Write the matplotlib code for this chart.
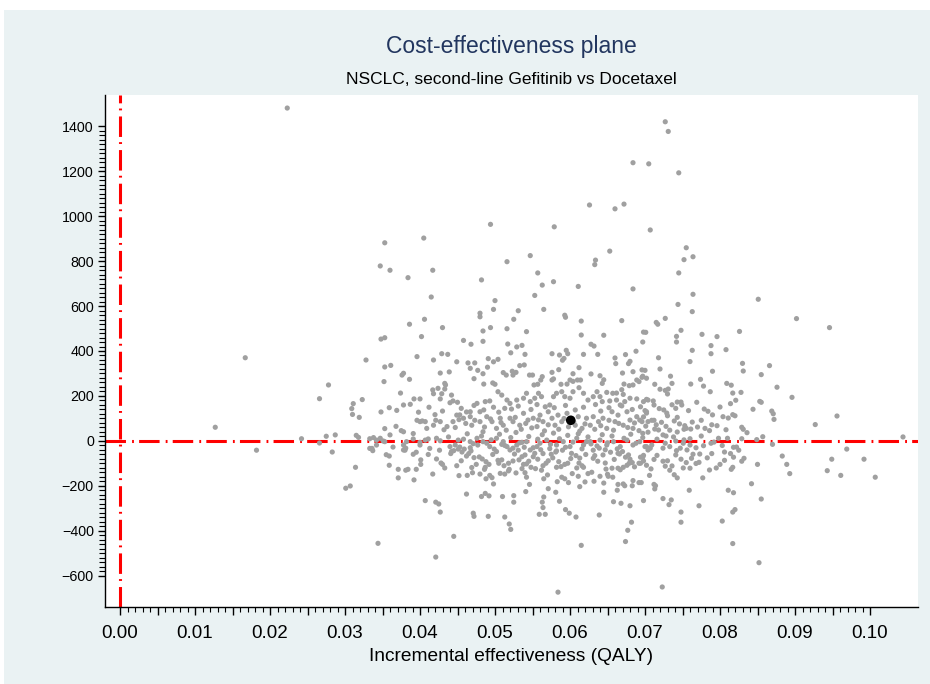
import matplotlib
matplotlib.use('Agg')
import matplotlib.pyplot as plt
import numpy as np
from matplotlib.patches import Rectangle
from matplotlib.ticker import FixedLocator, FuncFormatter

plt.rcParams['font.family'] = ['Liberation Sans', 'DejaVu Sans']

# ---------------- data (incremental effectiveness QALY, incremental cost) ----------------
pts_high = [(0.0223,1480),(0.0727,1419),(0.0731,1376),(0.0684,1237),(0.0705,1232),(0.0745,1192),
    (0.0626,1049),(0.0660,1032),(0.0672,1053),(0.0494,963),(0.0579,952),(0.0707,938),(0.0405,902),
    (0.0353,881),(0.0755,859),(0.0653,844),(0.0547,824),(0.0764,819),(0.0752,806),(0.0634,804),
    (0.0516,797),(0.0633,784),(0.0347,778),(0.0360,759),(0.0417,759),(0.0557,747),(0.0745,747),
    (0.0384,726),(0.0482,716),(0.0578,708),(0.0563,693),(0.0611,687),(0.0684,676),(0.0764,652),
    (0.0553,647),(0.0415,640),(0.0851,630),(0.0500,624),(0.0744,607)]

pts_mid = [(0.0498,585),(0.0565,585),(0.0531,579),(0.0763,575),(0.0480,568),(0.0593,559),(0.0480,552),
    (0.0594,550),(0.0727,545),(0.0902,544),(0.0406,541),(0.0525,541),(0.0669,535),(0.0615,533),
    (0.0715,527),(0.0386,519),(0.0717,519),(0.0946,504),(0.0430,504),(0.0494,504),(0.0516,499),
    (0.0748,492),(0.0484,489),(0.0826,487),(0.0542,486),(0.0698,484),(0.0701,483),(0.0776,474),
    (0.0615,471),(0.0645,470),(0.0742,465),(0.0402,464),(0.0796,464),(0.0353,459),(0.0348,453),
    (0.0458,447),(0.0484,443),(0.0697,440),(0.0742,440),(0.0468,430),(0.0628,430),(0.0517,431),
    (0.0536,425),(0.0788,424),(0.0632,422),(0.0529,418),(0.0808,406),(0.0763,403),(0.0595,403),
    (0.0688,399),(0.0521,392),(0.0576,388),(0.0597,388),(0.0429,388),(0.0788,388),(0.0540,385),
    (0.0618,385),(0.0637,385),(0.0437,385),(0.0674,384),(0.0586,382),(0.0396,375),(0.0167,370),
    (0.0718,370),(0.0660,369),(0.0592,367),(0.0491,366),(0.0504,363),(0.0328,360),(0.0418,360),
    (0.0590,359),(0.0760,353),(0.0680,354),(0.0449,352),(0.0498,352),(0.0464,347),(0.0473,347),
    (0.0830,345),(0.0661,344),(0.0678,344),(0.0539,338),(0.0361,336),(0.0866,335),(0.0533,335),
    (0.0353,329),(0.0490,328),(0.0612,326),(0.0467,323),(0.0720,320),(0.0696,316),(0.0585,317),
    (0.0700,314),(0.0477,314),(0.0831,311),(0.0790,310),(0.0523,310),(0.0684,308),(0.0439,307),
    (0.0511,304),(0.0576,305),(0.0528,305),(0.0427,302),(0.0670,302),(0.0378,301),(0.0484,299),
    (0.0604,299),(0.0628,298),(0.0855,295),(0.0376,293),(0.0515,293),(0.0524,293),(0.0546,293),
    (0.0550,293),(0.0640,290),(0.0734,288),(0.0697,288),(0.0563,286),(0.0696,283),(0.0702,279),
    (0.0472,277),(0.0578,276),(0.0386,274),(0.0774,274),(0.0561,271),(0.0576,271),(0.0600,271),
    (0.0610,271),(0.0614,271),(0.0689,271),(0.0645,272),(0.0604,265),(0.0692,264),(0.0352,264),
    (0.0809,256),(0.0736,256),(0.0643,256),(0.0433,256),(0.0485,253),(0.0672,253),(0.0596,253),
    (0.0761,253),(0.0713,252),(0.0497,258),(0.0500,252),(0.0557,252),(0.0588,252),(0.0552,249),
    (0.0434,249),(0.0684,249),(0.0278,249),(0.0815,248),(0.0679,246),(0.0778,244),(0.0876,239),
    (0.0612,237),(0.0424,234),(0.0433,231),(0.0731,231),(0.0720,230),(0.0669,228),(0.0417,227),
    (0.0727,225),(0.0504,219),(0.0589,219),(0.0604,219),(0.0636,219),(0.0787,219),(0.0828,216),
    (0.0649,216),(0.0817,213),(0.0374,213),(0.0662,213),(0.0542,212),(0.0558,212),(0.0582,212),
    (0.0618,212),(0.0657,212),(0.0418,210),(0.0429,210),(0.0730,209),(0.0671,207),(0.0442,204),
    (0.0509,204)]

pts_low = [(0.0562,197),(0.0578,197),(0.0593,197),(0.0631,197),(0.0640,197),(0.0896,194),(0.0538,190),
    (0.0553,190),(0.0600,190),(0.0680,190),(0.0266,188),(0.0392,187),(0.0400,187),(0.0427,187),
    (0.0689,187),(0.0702,185),(0.0323,184),(0.0516,182),(0.0529,182),(0.0624,182),(0.0662,182),
    (0.0704,182),(0.0821,181),(0.0444,178),(0.0493,178),(0.0653,178),(0.0711,178),(0.0853,176),
    (0.0487,175),(0.0547,175),(0.0643,175),(0.0673,175),(0.0698,175),(0.0743,173),(0.0748,173),
    (0.0450,172),(0.0769,172),(0.0855,172),(0.0440,170),(0.0311,166),(0.0814,166),(0.0476,167),
    (0.0520,167),(0.0387,163),(0.0736,161),(0.0667,160),(0.0749,160),(0.0573,160),(0.0567,152),
    (0.0800,151),(0.0359,148),(0.0513,145),(0.0309,144),(0.0719,144),(0.0522,142),(0.0779,142),
    (0.0844,141),(0.0369,136),(0.0700,135),(0.0430,133),(0.0869,133),(0.0784,132),(0.0462,129),
    (0.0348,129),(0.0480,130),(0.0467,130),(0.0571,130),(0.0656,130),(0.0676,130),(0.0702,130),
    (0.0702,124),(0.0729,124),(0.0538,123),(0.0596,123),(0.0871,121),(0.0310,118),(0.0420,117),
    (0.0817,117),(0.0790,116),(0.0453,116),(0.0449,115),(0.0560,115),(0.0584,115),(0.0664,115),
    (0.0730,112),(0.0820,112),(0.0956,111),(0.0467,108),(0.0489,108),(0.0611,108),(0.0631,108),
    (0.0689,108),(0.0804,108),(0.0698,107),(0.0319,105),(0.0743,105),(0.0811,102),(0.0458,101),
    (0.0507,101),(0.0520,101),(0.0551,101),(0.0576,101),(0.0622,101),(0.0644,101),(0.0872,96),
    (0.0693,93),(0.0544,93),(0.0680,93),(0.0396,92),(0.0709,92),(0.0712,92),(0.0403,89),(0.0739,89),
    (0.0704,86),(0.0407,86),(0.0400,86),(0.0427,86),(0.0444,86),(0.0480,86),(0.0496,86),(0.0524,86),
    (0.0564,86),(0.0589,86),(0.0638,86),(0.0660,86),(0.0696,86),(0.0722,83),(0.0927,73),(0.0789,72),
    (0.0409,56),(0.0418,70),(0.0469,70),(0.0511,70),(0.0533,70),(0.0580,70),(0.0607,70),(0.0627,70),
    (0.0671,70),(0.0796,68),(0.0753,68),(0.0368,65),(0.0728,65),(0.0436,64),(0.0556,64),(0.0770,62),
    (0.0829,61),(0.0127,61),(0.0780,56),(0.0755,56),(0.0502,56),(0.0616,56),(0.0649,56),(0.0684,56),
    (0.0353,55),(0.0713,53),(0.0761,53),(0.0752,52),(0.0831,52),(0.0808,50),(0.0718,49),(0.0375,46),
    (0.0378,41),(0.0484,41),(0.0743,40),(0.0704,39),(0.0836,37),(0.0697,34),(0.0391,33),(0.0287,27),
    (0.0360,27),(0.0724,27),(0.0315,25),(0.0728,22),(0.0275,21),(0.0857,19),(0.1044,18),(0.0318,16),
    (0.0338,15),(0.0347,12),(0.0476,12),(0.0502,12),(0.0609,12),(0.0798,12),(0.0810,12),(0.0422,12),
    (0.0242,10),(0.0333,10),(0.0760,10),(0.0829,10),(0.0411,9),(0.0391,9),(0.0849,6),(0.0342,4),
    (0.0407,4),(0.0451,4),(0.0569,4),(0.0640,4),(0.0676,4),(0.0427,1),(0.0351,0),(0.0741,0)]

pts_neg = [(0.0266,-9),(0.0353,-3),(0.0382,-3),(0.0467,-3),(0.0511,-3),(0.0542,-3),(0.0591,-3),
    (0.0627,-3),(0.0658,-3),(0.0693,-3),(0.0484,-3),(0.0622,-3),(0.0400,-6),(0.0536,-6),(0.0489,-10),
    (0.0560,-10),(0.0751,-10),(0.0727,-10),(0.0788,-10),(0.0628,-13),(0.0509,-15),(0.0870,-15),
    (0.0342,-18),(0.0400,-18),(0.0378,-18),(0.0447,-18),(0.0477,-18),(0.0529,-18),(0.0582,-18),
    (0.0618,-18),(0.0649,-18),(0.0684,-18),(0.0760,-18),(0.0778,-21),(0.0440,-25),(0.0493,-25),
    (0.0516,-25),(0.0556,-25),(0.0600,-25),(0.0667,-25),(0.0700,-25),(0.0702,-25),(0.0364,-27),
    (0.0453,-27),(0.0822,-27),(0.0818,-28),(0.0539,-28),(0.0467,-30),(0.0381,-32),(0.0524,-32),
    (0.0639,-32),(0.0707,-32),(0.0724,-32),(0.0747,-32),(0.0333,-33),(0.0336,-33),(0.0413,-33),
    (0.0573,-34),(0.0451,-36),(0.0459,-36),(0.0499,-36),(0.0969,-36),(0.0647,-39),(0.0561,-39),
    (0.0378,-40),(0.0520,-40),(0.0547,-40),(0.0704,-40),(0.0756,-40),(0.0182,-41),(0.0380,-41),
    (0.0426,-41),(0.0531,-41),(0.0590,-41),(0.0631,-41),(0.0825,-41),(0.0337,-43),(0.0742,-43),
    (0.0445,-43),(0.0468,-44),(0.0582,-44),(0.0502,-47),(0.0442,-47),(0.0670,-47),(0.0283,-49),
    (0.0456,-49),(0.0581,-49),(0.0806,-49),(0.0395,-50),(0.0654,-50),(0.0564,-56),(0.0441,-56),
    (0.0465,-56),(0.0602,-55),(0.0664,-55),(0.0814,-56),(0.0789,-56),(0.0391,-59),(0.0575,-59),
    (0.0764,-59),(0.0773,-58),(0.0355,-61),(0.0540,-62),(0.0644,-62),(0.0678,-62),(0.0716,-64),
    (0.0698,-64),(0.0608,-65),(0.0633,-65),(0.0359,-67),(0.0462,-67),(0.0883,-67),(0.0536,-70),
    (0.0551,-70),(0.0479,-71),(0.0694,-72),(0.0674,-72),(0.0697,-72),(0.0818,-72),(0.0472,-74),
    (0.0613,-76),(0.0631,-77),(0.0762,-77),(0.0832,-77),(0.0422,-80),(0.0557,-81),(0.0680,-81),
    (0.0748,-81),(0.0949,-81),(0.0992,-81),(0.0401,-84),(0.0509,-84),(0.0532,-84),(0.0504,-86),
    (0.0806,-86),(0.0571,-88),(0.0730,-88),(0.0524,-89),(0.0698,-89),(0.0724,-90),(0.0829,-90),
    (0.0488,-92),(0.0755,-96),(0.0683,-96),(0.0772,-95),(0.0428,-98),(0.0612,-98),(0.0647,-98),
    (0.0505,-99),(0.0518,-99),(0.0568,-99),(0.0597,-99),(0.0679,-99),(0.0692,-99),(0.0694,-99),
    (0.0401,-104),(0.0430,-104),(0.0475,-104),(0.0492,-104),(0.0538,-104),(0.0593,-104),(0.0800,-104),
    (0.0850,-104),(0.0889,-104),(0.0542,-102),(0.0359,-108),(0.0676,-108),(0.0449,-110),(0.0564,-110),
    (0.0616,-110),(0.0736,-111),(0.0588,-114),(0.0314,-117),(0.0487,-117),(0.0548,-117),(0.0582,-117),
    (0.0618,-117),(0.0671,-117),(0.0817,-117),(0.0760,-121),(0.0656,-121),(0.0664,-121),(0.0536,-123),
    (0.0554,-123),(0.0708,-124),(0.0371,-126),(0.0384,-126),(0.0395,-126),(0.0486,-126),(0.0519,-126),
    (0.0815,-126),(0.0381,-130),(0.0733,-130),(0.0667,-128),(0.0786,-129),(0.0518,-133),(0.0943,-132),
    (0.0629,-139),(0.0470,-141),(0.0540,-141),(0.0528,-142),(0.0507,-144),(0.0893,-145),(0.0603,-145),
    (0.0624,-145),(0.0417,-147),(0.0480,-147),(0.0513,-147),(0.0650,-148),(0.0739,-150),(0.0570,-151),
    (0.0493,-153),(0.0463,-153),(0.0706,-153),(0.0961,-153),(0.0452,-154),(0.0611,-157),(0.0640,-157),
    (0.0651,-157),(0.1007,-161),(0.0542,-161),(0.0589,-161),(0.0657,-161),(0.0496,-163),(0.0371,-164),
    (0.0743,-164),(0.0777,-164),(0.0488,-168),(0.0565,-168),(0.0593,-168),(0.0392,-173),(0.0684,-176),
    (0.0632,-179),(0.0583,-181),(0.0620,-182),(0.0598,-185),(0.0692,-185),(0.0695,-185),(0.0645,-187),
    (0.0842,-190),(0.0498,-191),(0.0671,-191),(0.0546,-193),(0.0664,-193),(0.0712,-193),(0.0683,-199),
    (0.0673,-199),(0.0714,-199),(0.0307,-200),(0.0613,-203),(0.0301,-210),(0.0571,-212),(0.0713,-213),
    (0.0759,-219),(0.0811,-219),(0.0663,-219),(0.0541,-225),(0.0581,-228),(0.0645,-228),(0.0818,-230),
    (0.0487,-233),(0.0462,-236),(0.0525,-243),(0.0492,-244),(0.0482,-247),(0.0510,-247),(0.0565,-249),
    (0.0724,-256),(0.0855,-258),(0.0735,-262),(0.0407,-265),(0.0698,-265),(0.0586,-268),(0.0658,-270),
    (0.0421,-272),(0.0525,-272),(0.0563,-272),(0.0668,-277),(0.0425,-280),(0.0732,-283),(0.0772,-288),
    (0.0680,-288),(0.0564,-296),(0.0594,-305),(0.0820,-305),(0.0427,-316),(0.0748,-316),(0.0817,-316),
    (0.0471,-321),(0.0599,-321),(0.0559,-326),(0.0567,-326),(0.0639,-329),(0.0472,-335),(0.0491,-335),
    (0.0513,-338),(0.0608,-338),(0.0803,-356),(0.0748,-361),(0.0682,-361),(0.0519,-369),(0.0521,-393),
    (0.0677,-397),(0.0445,-424),(0.0674,-447),(0.0344,-455),(0.0817,-456),(0.0615,-464),(0.0421,-516),
    (0.0852,-541),(0.0723,-649),(0.0584,-672)]

# extra points read from the densest part of the cloud (approximate positions)
pts_dense = [(0.0455,145),(0.0472,158),(0.0485,138),(0.0498,150),(0.0505,128),(0.0531,155),(0.0548,140),
    (0.0556,162),(0.0579,148),(0.0594,158),(0.0607,138),(0.0618,150),(0.0634,162),(0.0641,133),
    (0.0652,148),(0.0669,156),(0.0683,140),(0.0694,152),(0.0712,160),(0.0725,138),(0.0741,145),
    (0.0758,135),(0.0412,150),(0.0398,128),(0.0378,160),
    (0.0452,95),(0.0461,78),(0.0473,92),(0.0486,62),(0.0494,98),(0.0508,82),(0.0515,48),(0.0527,105),
    (0.0535,52),(0.0541,78),(0.0549,58),(0.0558,94),(0.0566,45),(0.0571,72),(0.0585,52),(0.0592,100),
    (0.0598,63),(0.0605,84),(0.0613,44),(0.0620,76),(0.0633,52),(0.0641,68),(0.0652,92),(0.0658,48),
    (0.0665,78),(0.0677,60),(0.0686,80),(0.0692,46),(0.0701,66),(0.0715,72),(0.0733,48),(0.0746,76),
    (0.0763,84),(0.0775,92),(0.0786,46),(0.0432,50),(0.0421,92),(0.0447,60),
    (0.0438,18),(0.0458,8),(0.0463,32),(0.0471,-12),(0.0482,22),(0.0495,5),(0.0506,30),(0.0513,-20),
    (0.0521,15),(0.0528,38),(0.0533,-8),(0.0545,20),(0.0551,-30),(0.0557,8),(0.0563,28),(0.0574,-15),
    (0.0578,35),(0.0586,10),(0.0594,-28),(0.0597,25),(0.0604,-5),(0.0611,32),(0.0616,-35),(0.0624,18),
    (0.0636,-22),(0.0643,28),(0.0650,-8),(0.0656,22),(0.0663,-35),(0.0672,12),(0.0681,30),(0.0688,-10),
    (0.0697,15),(0.0709,-18),(0.0716,8),(0.0733,-25),(0.0738,18),(0.0752,5),(0.0768,-30),(0.0775,22),
    (0.0792,-5),(0.0803,-20),
    (0.0455,-88),(0.0469,-118),(0.0483,-80),(0.0497,-60),(0.0512,-110),(0.0526,-58),(0.0545,-90),
    (0.0553,-55),(0.0562,-130),(0.0577,-75),(0.0585,-92),(0.0601,-78),(0.0609,-120),(0.0621,-60),
    (0.0637,-90),(0.0648,-125),(0.0659,-82),(0.0666,-58),(0.0686,-115),(0.0702,-108),(0.0712,-82),
    (0.0727,-112),(0.0741,-62),(0.0751,-120),(0.0768,-100),(0.0783,-75),(0.0795,-120),(0.0411,-60),
    (0.0433,-120)]

mean_eff = [0.0601]
mean_cost = [92]

x_label_ticks = [0.00, 0.01, 0.02, 0.03, 0.04, 0.05, 0.06, 0.07, 0.08, 0.09, 0.10]
y_label_ticks = [-600, -400, -200, 0, 200, 400, 600, 800, 1000, 1200, 1400]

title = "Cost-effectiveness plane"
subtitle = "NSCLC, second-line Gefitinib vs Docetaxel"
xlabel = "Incremental effectiveness (QALY)"

# ---------------- figure ----------------
W, H = 930, 684
fig = plt.figure(figsize=(W / 100, H / 100), dpi=100)
fig.patch.set_facecolor('white')
fig.patches.append(Rectangle((4 / W, 0), 1 - 4 / W, (H - 10) / H, transform=fig.transFigure,
                             facecolor='#EAF2F3', edgecolor='none', zorder=-10))

ax = fig.add_axes([105 / W, (H - 607) / H, (918 - 105) / W, (607 - 95) / H])
ax.set_facecolor('white')

allpts = np.array(pts_high + pts_mid + pts_low + pts_neg + pts_dense, dtype=float)
eff = allpts[:, 0]
cost = allpts[:, 1]

red_dash = (0, (6.7, 2.0, 0.6, 1.7))
ax.axhline(0, color='#FF0000', lw=2.2, linestyle=red_dash, zorder=1)
ax.axvline(0, color='#FF0000', lw=2.2, linestyle=red_dash, zorder=1)

ax.scatter(eff, cost, s=14, color='#A0A0A0', edgecolors='none', zorder=2)
ax.scatter(mean_eff, mean_cost, s=48, color='black', edgecolors='none', zorder=3)

ax.set_xlim(-0.002, 0.1064)
ax.set_ylim(-738, 1538)

for s in ['top', 'right']:
    ax.spines[s].set_visible(False)
for s in ['left', 'bottom']:
    ax.spines[s].set_color('black')
    ax.spines[s].set_linewidth(1.0)

# x ticks
ax.xaxis.set_major_locator(FixedLocator(np.arange(0, 0.1001, 0.005)))
ax.xaxis.set_minor_locator(FixedLocator(np.arange(0, 0.1001, 0.001)))
ax.xaxis.set_major_formatter(FuncFormatter(
    lambda v, p: f"{v:.2f}" if any(abs(v - t) < 1e-9 for t in x_label_ticks) else ""))
ax.tick_params(axis='x', which='major', length=6, width=1.0, labelsize=13.5, pad=7, colors='black')
ax.tick_params(axis='x', which='minor', length=3.5, width=0.8)

# y ticks
ax.yaxis.set_major_locator(FixedLocator(y_label_ticks))
ax.yaxis.set_minor_locator(FixedLocator(np.arange(-600, 1401, 20)))
ax.tick_params(axis='y', which='major', length=5, width=1.0, labelsize=10.3, pad=3, colors='black')
ax.tick_params(axis='y', which='minor', length=4, width=0.8)

ax.set_xlabel(xlabel, fontsize=13.8, labelpad=4, color='black')

fig.text(511 / W, 1 - 47 / H, title, ha='center', va='center', fontsize=16.5, color='#22365F')
fig.text(511 / W, 1 - 80 / H, subtitle, ha='center', va='center', fontsize=12.5, color='black')

fig.savefig('out.png', dpi=100, facecolor=fig.get_facecolor())
